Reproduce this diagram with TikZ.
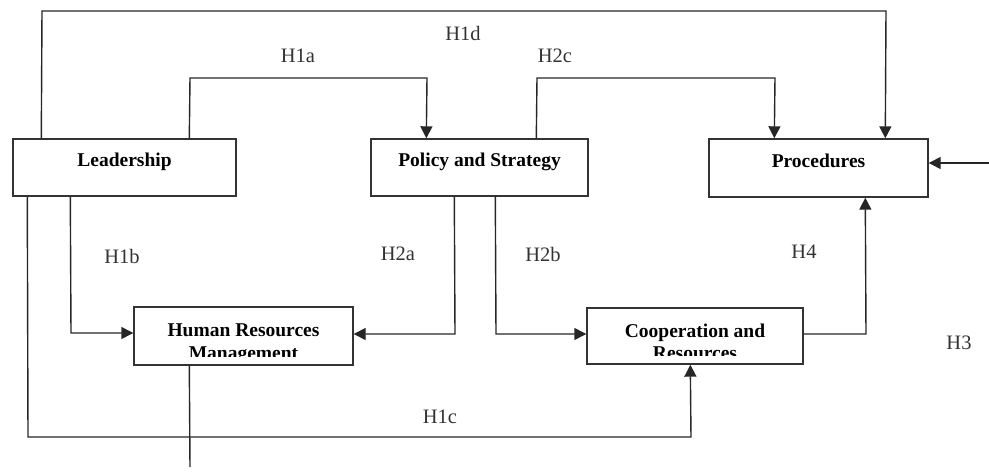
\documentclass[tikz,border=0pt]{standalone}
\usepackage{fontspec}
\setmainfont{Liberation Serif}
\usetikzlibrary{arrows.meta}

\tikzset{
  box/.style={draw=black!80, line width=1.4pt, rectangle, inner sep=0pt},
  boxtext/.style={font=\fontsize{19.5}{22}\selectfont\bfseries, anchor=base, inner sep=0pt},
  hyp/.style={font=\fontsize{20.5}{24}\selectfont, text=black!80, inner sep=0pt},
  link/.style={draw=black!85, line width=1.4pt},
  arr/.style={link, -{Triangle[width=12pt,length=12pt]}},
}

\begin{document}
\begin{tikzpicture}[x=1pt, y=-1pt]
\useasboundingbox (0,0) rectangle (989,476);

% the five boxes
\node[box, minimum width=223, minimum height=57] (lead) at (124.5,167.5) {};
\node[box, minimum width=217, minimum height=57] (pol)  at (479.5,167.5) {};
\node[box, minimum width=219, minimum height=58] (proc) at (818.5,168) {};
\node[box, minimum width=219, minimum height=58] (hrm)  at (243.5,336) {};
\node[box, minimum width=216, minimum height=56] (coop) at (695,336) {};

% box captions
\node[boxtext] (leadt) at (124.5,167) {Leadership};
\node[boxtext] (polt)  at (479.5,167) {Policy and Strategy};
\node[boxtext] (proct) at (818.5,168) {Procedures};
\begin{scope}
  \clip (134,307) rectangle (353,356);
  \node[boxtext] (hrmta) at (243.5,336.5) {Human Resources};
  \node[boxtext] (hrmtb) at (243.5,359) {Management};
\end{scope}
\begin{scope}
  \clip (587,308) rectangle (803,355);
  \node[boxtext] (coopta) at (695,337) {Cooperation and};
  \node[boxtext] (cooptb) at (695,359.5) {Resources};
\end{scope}

% connectors
\draw[arr] ([xshift=29]lead.north west) -- (42,11) -- (886,11) -- ([xshift=177]proc.north west);
\draw[arr] ([xshift=177]lead.north west) -- (190,78) -- (427,78) -- ([xshift=56]pol.north west);
\draw[arr] ([xshift=166]pol.north west) -- (537,78) -- (775,78) -- ([xshift=66]proc.north west);
\draw[arr] ([xshift=58]lead.south west) -- (71,333) -- ([yshift=3]hrm.west);
\draw[arr] ([xshift=15]lead.south west) -- (28,437) -- (691,437) -- ([xshift=104]coop.south west);
\draw[arr] ([xshift=84]pol.south west) -- (455,334) -- ([yshift=2]hrm.east);
\draw[arr] ([xshift=125]pol.south west) -- (496,334) -- ([yshift=2]coop.west);
\draw[arr] ([yshift=2]coop.east) -- (866,334) -- ([xshift=157]proc.south west);
\coordinate (h3in) at (989,163);
\draw[arr] (h3in) -- ([yshift=5]proc.east);
\coordinate (hrmout) at (190,467);
\draw[link] ([xshift=56]hrm.south west) -- (hrmout);

% hypothesis labels
\node[hyp] (h1d) at (463,33) {H1d};
\node[hyp] (h1a) at (298,56) {H1a};
\node[hyp] (h2c) at (555,56) {H2c};
\node[hyp] (h1b) at (122,256) {H1b};
\node[hyp] (h2a) at (398,254) {H2a};
\node[hyp] (h2b) at (543,254) {H2b};
\node[hyp] (h4)  at (804,252) {H4};
\node[hyp] (h3)  at (959,343) {H3};
\node[hyp] (h1c) at (440,417) {H1c};
\end{tikzpicture}
\end{document}
